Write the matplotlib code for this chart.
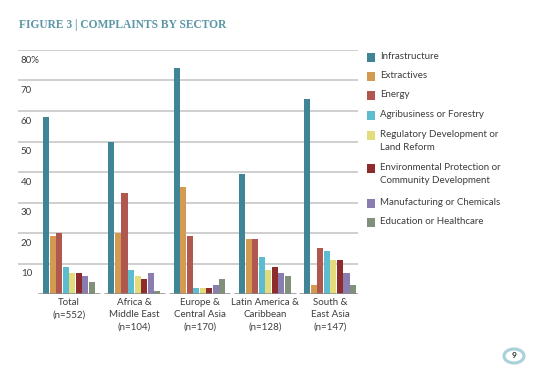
import matplotlib
matplotlib.use("Agg")
import matplotlib.pyplot as plt
from matplotlib.patches import Rectangle, Circle
import numpy as np

categories = ["Total\n(n=552)", "Africa &\nMiddle East\n(n=104)", "Europe &\nCentral Asia\n(n=170)",
              "Latin America &\nCaribbean\n(n=128)", "South &\nEast Asia\n(n=147)"]
series_names = ["Infrastructure", "Extractives", "Energy", "Agribusiness or Forestry",
                "Regulatory Development or\nLand Reform", "Environmental Protection or\nCommunity Development",
                "Manufacturing or Chemicals", "Education or Healthcare"]
infrastructure = [58, 50, 74, 39.5, 64]
extractives = [19, 20, 35, 18, 3]
energy = [20, 33, 19, 18, 15]
agribusiness = [9, 8, 2, 12, 14]
regulatory = [7, 6, 2, 8, 11]
environmental = [7, 5, 2, 9, 11]
manufacturing = [6, 7, 3, 7, 7]
education = [4, 1, 5, 6, 3]
ytick_values = [10, 20, 30, 40, 50, 60, 70, 80]
ytick_labels = ["10", "20", "30", "40", "50", "60", "70", "80%"]

colors = ["#3f8595", "#d39b52", "#b0574f", "#5dbdd0", "#e2dc7c", "#8e2b2c", "#8a7daf", "#80907a"]
series = [infrastructure, extractives, energy, agribusiness, regulatory, environmental, manufacturing, education]

W, H = 550, 385
fig = plt.figure(figsize=(5.5, 3.85), dpi=100)
font = "Lato"
textc = "#3d3d3d"

# axes in pixel geometry
left, right, top, bottom = 18, 358, 50, 294
ax = fig.add_axes([left / W, 1 - bottom / H, (right - left) / W, (bottom - top) / H])
ax.set_xlim(-0.781, 4.426)
ax.set_ylim(0, 80)
for s in ax.spines.values():
    s.set_visible(False)
ax.tick_params(axis="y", left=False, labelleft=False)

for v in ytick_values:
    ax.axhline(v, color="#cbcbcb", lw=1.3, zorder=0)

x = np.arange(len(categories))
bw = 0.1
for k, (vals, c) in enumerate(zip(series, colors)):
    ax.bar(x + (k - 3.5) * bw, vals, width=bw * 0.93, color=c, zorder=2, edgecolor="none")

for xi in x:
    ax.plot([xi - 0.47, xi + 0.47], [0, 0], color="#8a8a8a", lw=1.8, zorder=3, solid_capstyle="butt")

for v, lab in zip(ytick_values, ytick_labels):
    ax.annotate(lab, xy=(0, v), xycoords=("axes fraction", "data"), xytext=(2, -4),
                textcoords="offset points", ha="left", va="top", fontsize=7, color=textc,
                family=font)

ax.set_xticks(x, categories)
ax.tick_params(axis="x", length=0, pad=3, labelsize=7, labelcolor=textc)
for t in ax.get_xticklabels():
    t.set_family(font)
    t.set_linespacing(1.45)

# title
fig.text(19 / W, 1 - 25 / H, "FIGURE 3 | COMPLAINTS BY SECTOR", family="Liberation Serif",
         fontweight="bold", fontsize=8.3, color="#5b97a7", ha="left", va="center")

# legend
leg_y = [57, 76, 95, 115, 135, 168, 203, 222]
for name, c, yy in zip(series_names, colors, leg_y):
    fig.patches.append(Rectangle((367 / W, 1 - (yy + 4.5) / H), 8 / W, 9 / H,
                                 transform=fig.transFigure, facecolor=c, edgecolor="none"))
    fig.text(380 / W, 1 - (yy - 5) / H, name, ha="left", va="top", fontsize=7,
             color=textc, family=font, linespacing=1.55)

# page number
fig.patches.append(Circle((514 / W, 1 - 356 / H), 10 / W, transform=fig.transFigure,
                          facecolor="white", edgecolor="#a9d1d9", lw=2.2))
fig.text(514 / W, 1 - 356 / H, "9", ha="center", va="center", fontsize=6,
         fontweight="bold", color="#333333", family=font)

fig.savefig("out.png", dpi=100)
